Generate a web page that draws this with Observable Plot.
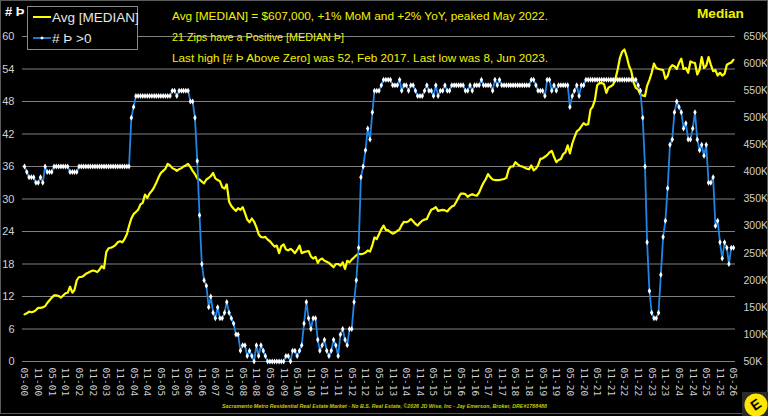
<!DOCTYPE html>
<html>
<head>
<meta charset="utf-8">
<script src="https://cdn.jsdelivr.net/npm/d3@7"></script>
<script src="https://cdn.jsdelivr.net/npm/@observablehq/plot@0.6"></script>
<style>
  html, body { margin: 0; padding: 0; background: #000; }
  #wrap { position: relative; width: 768px; height: 416px; overflow: hidden; background: #000; font-family: "Liberation Sans", Arial, sans-serif; }
  #wrap svg.plot { position: absolute; left: 0; top: 0; }
  .t { position: absolute; white-space: nowrap; color: #f2f200; font-size: 11.8px; transform-origin: 0 50%; }
  #border { position: absolute; left: 0; top: 0; width: 766px; height: 412px; border: 1px solid #5a5a5a; pointer-events: none; }
  #legend { position: absolute; left: 27px; top: 6px; width: 109px; height: 42px; border: 1px solid #8a8a8a; background: #000; }
  #legend .row { position: absolute; left: 5px; height: 16px; display: flex; align-items: center; color: #e6e6e6; font-size: 13.5px; white-space: nowrap; }
  #caption { position: absolute; left: 222px; top: 403px; font-size: 5.7px; font-weight: bold; font-style: italic; color: #c8c800; white-space: nowrap; transform-origin: 0 50%; }
</style>
</head>
<body>
<div id="wrap"></div>
<script>
// ---- data (monthly, May 2000 .. May 2026) ----
const startMonth = "2000-05";
// Avg [MEDIAN] price, in $K (right axis)
const medianK = [
  137,139,142,141,142,145,149,149,150,152,158,163,
  168,172,172,171,168,172,176,177,188,177,182,200,
  206,206,208,212,214,216,218,217,215,220,226,222,
  252,259,260,262,265,270,272,270,276,285,300,314,
  322,326,330,340,343,358,352,360,365,372,380,390,
  398,402,406,415,412,407,405,402,405,407,410,412,
  415,409,402,396,388,386,382,379,386,389,392,398,
  388,385,383,372,369,377,345,337,332,328,333,330,
  335,324,312,307,314,308,298,285,280,279,280,275,
  272,267,262,264,250,263,266,257,255,258,255,250,
  256,264,250,252,253,254,244,240,243,232,238,240,
  236,234,232,228,224,230,230,227,233,221,236,233,
  238,242,246,249,248,249,251,255,253,265,279,276,
  285,294,301,293,292,289,286,288,291,294,302,308,
  307,309,313,309,304,301,306,310,312,313,322,330,
  332,335,328,329,330,329,327,332,336,338,345,353,
  360,360,359,354,357,359,357,356,362,372,380,387,
  396,390,386,385,385,385,386,387,389,405,410,410,
  418,414,411,410,408,406,405,412,403,406,412,424,
  425,428,431,436,439,428,418,422,424,433,436,449,
  434,452,464,475,478,484,490,487,488,515,520,533,
  560,564,564,562,546,556,558,561,572,590,610,622,
  626,613,596,586,565,555,552,543,541,540,559,570,
  583,600,592,590,589,588,572,577,592,597,595,590,
  601,609,590,592,583,604,602,601,580,589,612,592,
  596,612,598,586,588,578,583,578,581,598,600,602,
  607
];
// # Þ >0 : number of zips with a positive median (left axis)
const zipsPositive = [
  36,35,34,34,34,33,33,34,33,36,35,35,
  35,36,36,36,36,36,36,36,35,35,35,35,
  36,36,36,36,36,36,36,36,36,36,36,36,
  36,36,36,36,36,36,36,36,36,36,36,45,
  47,49,49,49,49,49,49,49,49,49,49,49,
  49,49,49,49,49,50,50,49,50,50,50,50,
  50,48,48,45,37,27,18,15,14,10,12,9,
  8,10,8,8,9,11,9,8,7,5,5,2,
  3,3,1,2,1,0,3,1,3,2,1,0,
  0,0,0,0,0,0,0,1,1,0,2,2,
  1,2,3,7,11,8,6,8,8,4,2,3,
  4,2,1,2,4,3,1,5,6,4,3,6,
  6,11,15,21,34,36,39,43,41,46,50,50,
  50,51,52,52,52,52,51,51,51,52,50,51,
  51,50,51,51,50,49,49,49,50,51,50,50,
  49,51,49,50,50,51,50,50,51,51,51,51,
  51,51,50,50,51,50,51,51,51,52,51,51,
  51,51,50,52,51,52,51,51,51,51,51,51,
  51,51,51,51,51,51,51,52,52,51,50,50,
  50,49,52,52,50,51,50,51,51,51,51,51,
  47,49,50,51,49,51,51,52,52,52,52,52,
  52,52,52,52,52,52,52,52,52,52,52,52,
  52,52,52,52,52,52,51,50,45,36,22,13,
  9,8,8,9,16,23,26,32,40,41,46,48,
  47,46,43,44,41,41,43,46,41,39,40,38,
  40,33,33,34,25,26,22,19,22,21,18,21,
  21
];
const leftTicks = [0, 6, 12, 18, 24, 30, 36, 42, 48, 54, 60];
const rightTicksK = [50, 100, 150, 200, 250, 300, 350, 400, 450, 500, 550, 600, 650];
const xTickLabels = [
  "05-00","11-00","05-01","11-01","05-02","11-02","05-03","11-03","05-04","11-04",
  "05-05","11-05","05-06","11-06","05-07","11-07","05-08","11-08","05-09","11-09",
  "05-10","11-10","05-11","11-11","05-12","11-12","05-13","11-13","05-14","11-14",
  "05-15","11-15","05-16","11-16","05-17","11-17","05-18","11-18","05-19","11-19",
  "05-20","11-20","05-21","11-21","05-22","11-22","05-23","11-23","05-24","11-24",
  "05-25","11-25","05-26"
];

// ---- build ----
const parseYM = d3.utcParse("%Y-%m");
const parseTick = d3.utcParse("%m-%y");
const start = parseYM(startMonth);
const kToLeft = k => (k - 50) / 10; // right axis 50K..650K  <->  left axis 0..60
const rows = zipsPositive.map((v, i) => ({
  date: d3.utcMonth.offset(start, i),
  zips: v,
  med: kToLeft(medianK[i])
}));
const xTicks = xTickLabels.map(s => parseTick(s));

const chart = Plot.plot({
  width: 768,
  height: 416,
  marginLeft: 22,
  marginRight: 33,
  marginTop: 36,
  marginBottom: 55,
  style: { background: "transparent", color: "#d0d0d0", fontFamily: "Liberation Sans, Arial, sans-serif" },
  x: { type: "utc", domain: [rows[0].date, rows[rows.length - 1].date], insetLeft: 2, insetRight: 2 },
  y: { domain: [0, 60] },
  marks: [
    Plot.gridY(leftTicks, { stroke: "#808080", strokeOpacity: 1, strokeWidth: 1 }),
    Plot.axisY({ anchor: "left", ticks: leftTicks, tickSize: 0, tickPadding: 8, label: null, fontSize: 11 }),
    Plot.axisY({ anchor: "right", ticks: rightTicksK.map(kToLeft), tickSize: 0, tickPadding: 8, label: null, fontSize: 10.5,
                 tickFormat: d => Math.round(d * 10 + 50) + "K" }),
    Plot.axisX({ ticks: xTicks, tickFormat: d3.utcFormat("%m-%y"), tickRotate: 90, tickSize: 0, tickPadding: 6, label: null,
                 fontSize: 9.5, fontFamily: "DejaVu Sans Mono, monospace" }),
    Plot.lineY(rows, { x: "date", y: "med", stroke: "#ffff00", strokeWidth: 2.2 }),
    Plot.lineY(rows, { x: "date", y: "zips", stroke: "#2185e6", strokeWidth: 1.8 }),
    Plot.dot(rows, { x: "date", y: "zips", symbol: "diamond", r: 1.8, fill: "#ffffff", stroke: "none" })
  ]
});
chart.classList.add("plot");
const wrap = document.getElementById("wrap");
wrap.appendChild(chart);

wrap.insertAdjacentHTML("beforeend", `
  <div class="t" style="left:5px;top:4px;color:#ffffff;font-weight:bold;font-size:13px;">#&nbsp;Þ</div>
  <div id="legend">
    <div class="row" style="top:2px;">
      <svg width="18" height="6" style="margin-right:1px;flex:none"><line x1="0" y1="3" x2="18" y2="3" stroke="#ffff00" stroke-width="2"/></svg><span>Avg [MEDIAN]</span>
    </div>
    <div class="row" style="top:23px;">
      <svg width="18" height="6" style="margin-right:1px;flex:none"><line x1="0" y1="3" x2="18" y2="3" stroke="#2185e6" stroke-width="1.8"/><path d="M9,1.2L10.8,3L9,4.8L7.2,3Z" fill="#fff"/></svg><span># Þ &gt;0</span>
    </div>
  </div>
  <div class="t fit" data-w="376" style="left:172px;top:9px;">Avg [MEDIAN] = $607,000, +1% MoM and +2% YoY, peaked May 2022.</div>
  <div class="t fit" data-w="172" style="left:172px;top:30px;">21 Zips have a Positive [MEDIAN Þ]</div>
  <div class="t fit" data-w="376" style="left:172px;top:51px;">Last high [# Þ Above Zero] was 52, Feb 2017. Last low was 8, Jun 2023.</div>
  <div class="t" style="left:697px;top:6px;font-weight:bold;font-size:13.6px;">Median</div>
  <div id="caption" class="fit" data-w="325">Sacramento Metro Residential Real Estate Market - No B.S. Real Estate, ©2026 JD Wise, Inc - Jay Emerson, Broker, DRE#1788488</div>
  <div id="border"></div>
  <svg style="position:absolute;left:742px;top:392px;" width="26" height="24">
    <rect x="0" y="0" width="26" height="24" fill="#2a2a2a"/>
    <circle cx="14" cy="13" r="11.5" fill="#ffe600"/>
    <text x="14" y="17.5" text-anchor="middle" font-family="Liberation Sans, Arial" font-weight="bold" font-size="14" fill="#000" transform="rotate(-35 14 13)">E</text>
  </svg>
`);
// horizontally fit text lines to the widths seen in the reference
wrap.querySelectorAll(".fit").forEach(el => {
  const w = el.getBoundingClientRect().width;
  const target = +el.dataset.w;
  if (w > 0) el.style.transform = `scaleX(${target / w})`;
});
</script>
</body>
</html>
